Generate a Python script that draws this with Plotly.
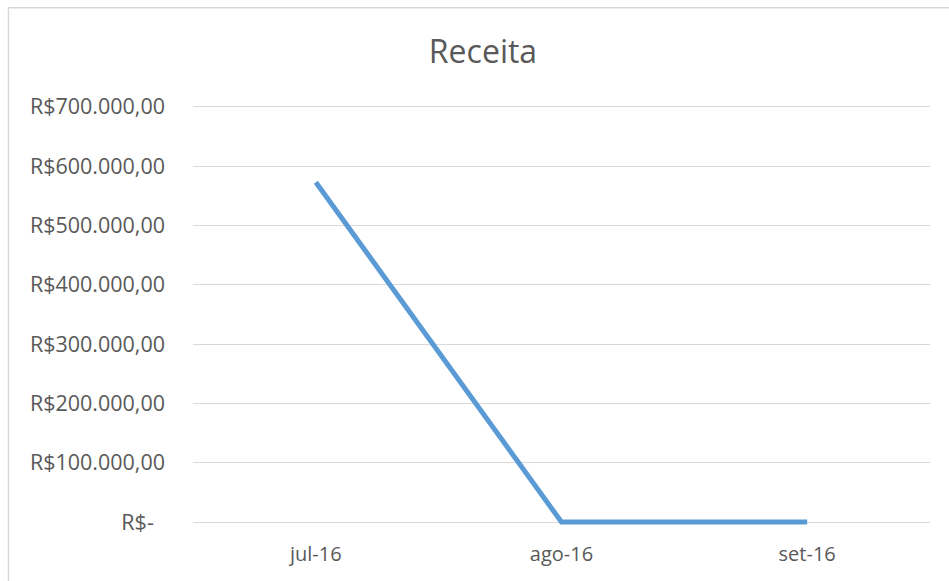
import plotly.graph_objects as go

categories = ["jul-16", "ago-16", "set-16"]
receita = [573000, 0, 0]
tick_values = [0, 100000, 200000, 300000, 400000, 500000, 600000, 700000]
tick_labels = ["R$-\u00a0\u00a0", "R$100.000,00", "R$200.000,00", "R$300.000,00",
               "R$400.000,00", "R$500.000,00", "R$600.000,00", "R$700.000,00"]

W, H = 949, 581
L, R = 193, 19
T, B = 100.8, 53.4
pw = W - L - R
ph = H - T - B

fig = go.Figure()
fig.add_trace(go.Scatter(
    x=categories, y=receita, mode="lines",
    line=dict(color="#5B9BD5", width=5),
    hoverinfo="skip", showlegend=False,
))

def px_x(p):
    return (p - L) / pw

def px_y(p):
    return (H - B - p) / ph

fig.add_shape(type="rect", xref="paper", yref="paper",
              x0=px_x(8.5), x1=px_x(960), y0=px_y(7.5), y1=px_y(600),
              line=dict(color="#D9D9D9", width=1.5), fillcolor="rgba(0,0,0,0)",
              layer="below")

fig.update_layout(
    width=W, height=H,
    margin=dict(l=L, r=R, t=T, b=B, pad=0),
    paper_bgcolor="white", plot_bgcolor="white",
    font=dict(family="Open Sans", color="#595959", size=21),
    title=dict(text="Receita", x=(483) / W, xanchor="center",
               y=1 - 52 / H, yanchor="middle",
               font=dict(family="Open Sans", size=32, color="#595959")),
    xaxis=dict(type="category", range=[-0.5, 2.5], showgrid=False,
               showline=False, zeroline=False, ticks="",
               tickfont=dict(size=20, color="#595959"),
               ticklabelstandoff=12, fixedrange=True),
    yaxis=dict(range=[-10000, 710000], tickvals=tick_values, ticktext=tick_labels,
               showgrid=True, gridcolor="#D9D9D9", gridwidth=1.2,
               zeroline=False, showline=False, ticks="",
               tickfont=dict(size=21.5, color="#595959"),
               ticklabelstandoff=27, fixedrange=True),
)

fig.write_html("out.html", config={"displayModeBar": False},
               post_script="document.body.style.margin='0';document.body.style.overflow='hidden';")
